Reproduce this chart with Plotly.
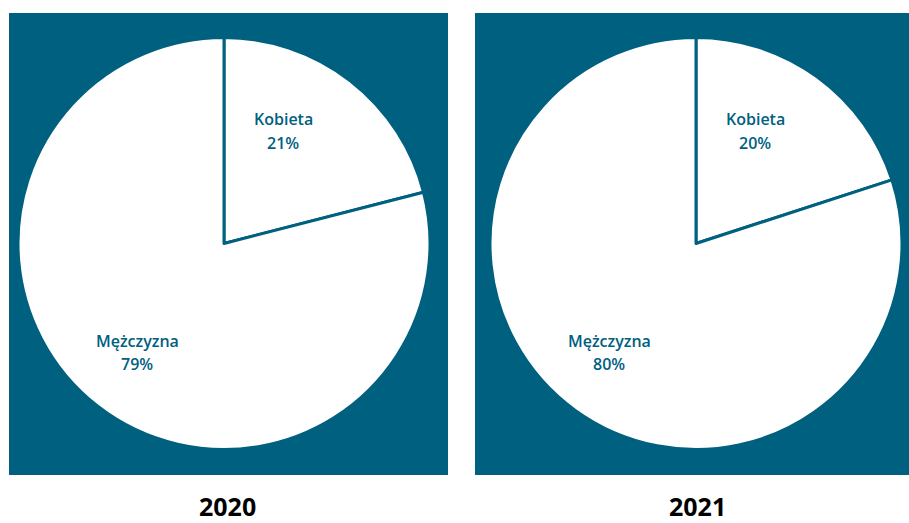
import plotly.graph_objects as go

W, H = 909, 523
TEAL = "#00607F"

categories = ["Kobieta", "Mężczyzna"]
years = ["2020", "2021"]
values_2020 = [21, 79]
values_2021 = [20, 80]
series = [values_2020, values_2021]

# layout geometry (pixels)
panels = [(9, 448), (475, 912)]
panel_top, panel_bottom = 13, 475
pie_centers = [224, 696]
pie_cy, pie_r = 243.5, 206
label_offsets = [(59, -124), (-87, 97)]  # pixel offsets of label (name line) from pie centre
title_x = [228, 697]
title_y = 505.5

def px(x):
    return x / W

def py(y):
    return 1 - y / H

fig = go.Figure()
shapes = []
annotations = []
for i, (year, vals) in enumerate(zip(years, series)):
    x0, x1 = panels[i]
    shapes.append(dict(type="rect", xref="paper", yref="paper",
                       x0=px(x0), x1=px(x1), y0=py(panel_bottom), y1=py(panel_top),
                       fillcolor=TEAL, line=dict(width=0), layer="below"))
    cx = pie_centers[i]
    fig.add_trace(go.Pie(
        labels=categories, values=vals, sort=False, direction="clockwise",
        rotation=0, textinfo="none", hoverinfo="label+percent",
        marker=dict(colors=["#FFFFFF", "#FFFFFF"], line=dict(color=TEAL, width=3)),
        domain=dict(x=[px(cx - pie_r), px(cx + pie_r)],
                    y=[py(pie_cy + pie_r), py(pie_cy - pie_r)]),
        showlegend=False,
    ))
    for cat, v, (dx, dy) in zip(categories, vals, label_offsets):
        annotations.append(dict(x=px(cx + dx), y=py(pie_cy + dy), xref="paper", yref="paper",
                                text=cat, showarrow=False, xanchor="center", yanchor="middle",
                                font=dict(family="Open Sans", size=16, color=TEAL, weight=600)))
        annotations.append(dict(x=px(cx + dx), y=py(pie_cy + dy + 23), xref="paper", yref="paper",
                                text=f"{v}%", showarrow=False, xanchor="center", yanchor="middle",
                                font=dict(family="Open Sans", size=16, color=TEAL, weight=600)))
    annotations.append(dict(x=px(title_x[i]), y=py(title_y), xref="paper", yref="paper",
                            text=f"<b>{year}</b>", showarrow=False, xanchor="center", yanchor="middle",
                            borderpad=0,
                            font=dict(family="Open Sans", size=25, color="#000000")))

fig.update_layout(width=W, height=H, margin=dict(l=0, r=0, t=0, b=0),
                  paper_bgcolor="white", plot_bgcolor="white",
                  shapes=shapes, annotations=annotations)
fig.write_html("out.html", config={"displayModeBar": False},
               post_script="document.body.style.margin='0';document.body.style.overflow='hidden';")
